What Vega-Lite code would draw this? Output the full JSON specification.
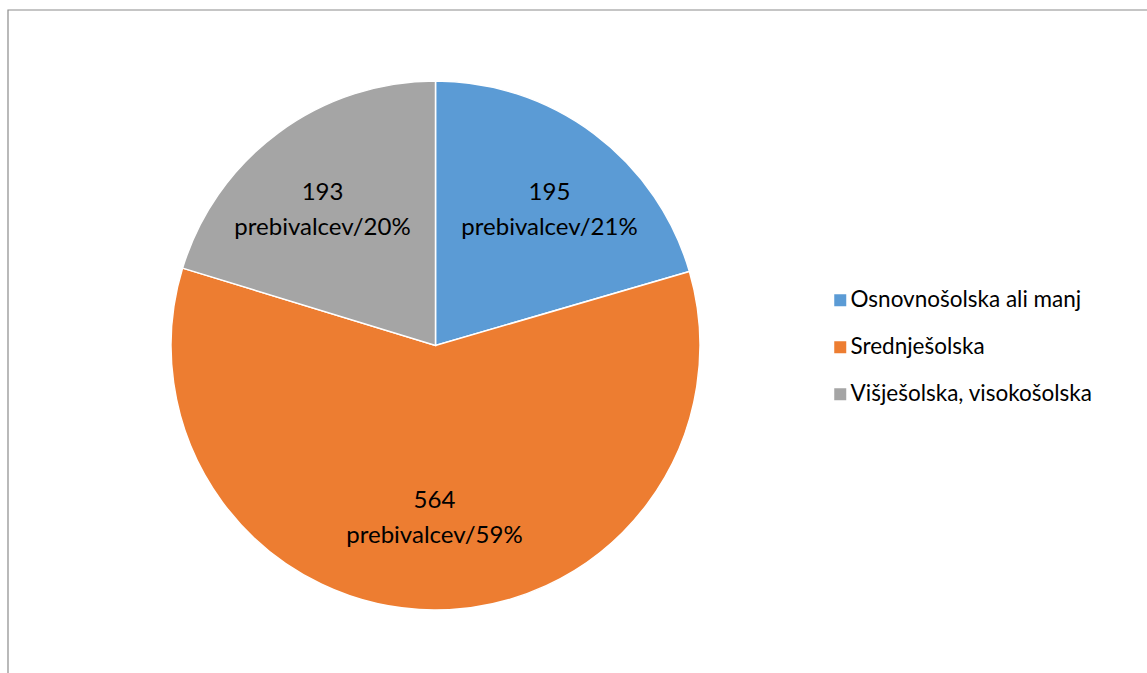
{
  "$schema": "https://vega.github.io/schema/vega-lite/v6.json",
  "autosize": {"type": "none"},
  "padding": {"left": 8, "top": 10, "right": 0, "bottom": 0},
  "width": 1145,
  "height": 671,
  "background": "white",
  "config": {
    "view": {"stroke": null},
    "font": "Lato"
  },
  "layer": [
    {
      "data": {"values": [{"okvir": 1}]},
      "mark": {"type": "rect", "fill": null, "stroke": "#8c8c8c", "strokeWidth": 1.2},
      "encoding": {}
    },
    {
      "data": {
        "values": [
          {"kategorija": "Osnovnošolska ali manj", "prebivalci": 195, "label": "195\nprebivalcev/21%"},
          {"kategorija": "Srednješolska", "prebivalci": 564, "label": "564\nprebivalcev/59%"},
          {"kategorija": "Višješolska, visokošolska", "prebivalci": 193, "label": "193\nprebivalcev/20%"}
        ]
      },
      "encoding": {
        "theta": {"field": "prebivalci", "type": "quantitative", "stack": true},
        "order": {"field": "kategorija", "sort": "ascending"}
      },
      "layer": [
        {
          "mark": {"type": "arc", "outerRadius": 264.5, "xOffset": -145, "stroke": "white", "strokeWidth": 1.5},
          "encoding": {
            "color": {
              "field": "kategorija",
              "type": "nominal",
              "scale": {
                "domain": ["Osnovnošolska ali manj", "Srednješolska", "Višješolska, visokošolska"],
                "range": ["#5b9bd5", "#ed7d31", "#a5a5a5"]
              },
              "legend": {
                "title": null,
                "orient": "none",
                "legendX": 821,
                "legendY": 279,
                "symbolType": "square",
                "symbolSize": 144,
                "symbolStrokeWidth": 0,
                "labelFontSize": 22.5,
                "labelFont": "Lato",
                "labelColor": "#000000",
                "labelOffset": -1,
                "rowPadding": 24,
                "labelLimit": 400
              }
            }
          }
        },
        {
          "mark": {"type": "text", "radius": 190, "xOffset": -145, "fontSize": 24, "font": "Lato", "lineBreak": "\n", "lineHeight": 35, "color": "#000000", "align": "center", "baseline": "middle"},
          "encoding": {
            "text": {"field": "label", "type": "nominal"},
            "opacity": {
              "condition": {"test": "datum.kategorija !== 'Srednješolska'", "value": 1},
              "value": 0
            }
          }
        },
        {
          "mark": {"type": "text", "radius": 156, "xOffset": -145, "fontSize": 24, "font": "Lato", "lineBreak": "\n", "lineHeight": 35, "color": "#000000", "align": "center", "baseline": "middle"},
          "encoding": {
            "text": {"field": "label", "type": "nominal"},
            "opacity": {
              "condition": {"test": "datum.kategorija === 'Srednješolska'", "value": 1},
              "value": 0
            }
          }
        }
      ]
    }
  ]
}
